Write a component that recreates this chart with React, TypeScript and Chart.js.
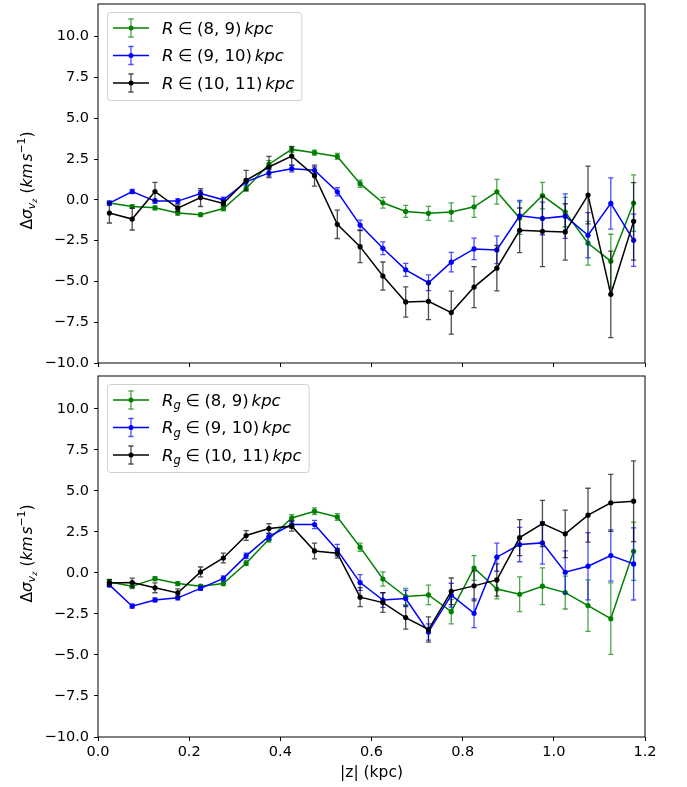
import { useEffect, useRef } from "react";
import { Chart, registerables } from "chart.js";

Chart.register(...registerables);

// Vertical bin centres |z| (kpc)
const Z_KPC = [
  0.025, 0.075, 0.125, 0.175, 0.225, 0.275, 0.325, 0.375, 0.425, 0.475, 0.525, 0.575,
  0.625, 0.675, 0.725, 0.775, 0.825, 0.875, 0.925, 0.975, 1.025, 1.075, 1.125, 1.175,
];

// Galactocentric radius bins
const R_8_9 = [-0.2, -0.41, -0.49, -0.81, -0.91, -0.53, 0.69, 2.18, 3.09, 2.89, 2.66, 0.99, -0.18, -0.71, -0.83, -0.75, -0.43, 0.49, -1.12, 0.26, -0.75, -2.66, -3.76, -0.2];
const R_8_9_ERR = [0.12, 0.12, 0.12, 0.13, 0.1, 0.14, 0.17, 0.22, 0.18, 0.15, 0.18, 0.22, 0.33, 0.37, 0.43, 0.56, 0.64, 0.76, 1.0, 0.81, 0.9, 1.34, 1.65, 1.73];
const R_9_10 = [-0.2, 0.51, -0.08, -0.08, 0.39, 0.0, 1.1, 1.65, 1.91, 1.81, 0.49, -1.55, -2.97, -4.29, -5.08, -3.82, -3.01, -3.07, -0.98, -1.14, -1.0, -2.17, -0.22, -2.48];
const R_9_10_ERR = [0.12, 0.13, 0.14, 0.15, 0.18, 0.16, 0.18, 0.2, 0.2, 0.2, 0.25, 0.3, 0.39, 0.4, 0.48, 0.6, 0.66, 0.84, 0.95, 1.0, 1.36, 1.39, 1.57, 1.6];
const R_10_11 = [-0.81, -1.18, 0.51, -0.51, 0.14, -0.22, 1.2, 2.01, 2.68, 1.48, -1.5, -2.87, -4.67, -6.26, -6.22, -6.91, -5.35, -4.19, -1.87, -1.93, -1.97, 0.29, -5.79, -1.32];
const R_10_11_ERR = [0.61, 0.67, 0.56, 0.2, 0.55, 0.15, 0.61, 0.65, 0.56, 0.64, 0.87, 0.98, 0.86, 0.93, 1.12, 1.32, 1.26, 1.39, 1.37, 2.16, 1.73, 1.77, 2.65, 2.37];

// Guiding-radius bins
const RG_8_9 = [-0.55, -0.81, -0.35, -0.65, -0.81, -0.65, 0.59, 2.05, 3.35, 3.76, 3.41, 1.57, -0.37, -1.44, -1.34, -2.36, 0.3, -0.98, -1.3, -0.81, -1.2, -1.99, -2.79, 1.32];
const RG_8_9_ERR = [0.15, 0.14, 0.12, 0.12, 0.1, 0.12, 0.15, 0.17, 0.2, 0.2, 0.2, 0.25, 0.43, 0.5, 0.59, 0.74, 0.75, 0.6, 1.06, 1.12, 1.0, 1.57, 2.18, 1.78];
const RG_9_10 = [-0.73, -2.03, -1.65, -1.52, -0.94, -0.33, 1.04, 2.22, 2.95, 2.95, 1.38, -0.59, -1.65, -1.56, -3.6, -1.36, -2.46, 0.96, 1.73, 1.83, 0.04, 0.41, 1.06, 0.55];
const RG_9_10_ERR = [0.12, 0.12, 0.12, 0.12, 0.12, 0.15, 0.17, 0.2, 0.22, 0.25, 0.36, 0.48, 0.45, 0.5, 0.5, 0.73, 0.87, 0.86, 1.05, 1.29, 1.3, 2.05, 1.56, 2.2];
const RG_10_11 = [-0.61, -0.59, -0.91, -1.22, 0.06, 0.91, 2.28, 2.7, 2.85, 1.34, 1.2, -1.48, -1.81, -2.72, -3.45, -1.12, -0.79, -0.43, 2.15, 3.01, 2.38, 3.52, 4.27, 4.37];
const RG_10_11_ERR = [0.2, 0.27, 0.3, 0.25, 0.3, 0.3, 0.3, 0.3, 0.3, 0.48, 0.3, 0.58, 0.6, 0.71, 0.77, 0.81, 0.91, 0.98, 1.1, 1.41, 1.45, 1.64, 1.74, 2.46];

const BIN_LABELS = ["(8, 9)", "(9, 10)", "(10, 11)"];
const X_TICKS = [0, 0.2, 0.4, 0.6, 0.8, 1.0, 1.2];
const Y_TICKS = [-10, -7.5, -5, -2.5, 0, 2.5, 5, 7.5, 10];
const X_RANGE = [0, 1.2];
const Y_RANGE = [-10, 12];
const X_TITLE = "|z| (kpc)";

const GREEN = "#008000";
const BLUE = "#0000ff";
const BLACK = "#000000";
const FONT = '"DejaVu Sans", "Liberation Sans", sans-serif';
const TICK_FS = 14.5;
const LABEL_FS = 15.5;
const LEGEND_FS = 16.5;

type Run = { text?: string; italic?: boolean; scale?: number; shift?: number; gap?: number };

function runFont(r: Run, size: number) {
  const s = size * (r.scale ?? 1);
  return `${r.italic ? "italic " : ""}${s}px ${FONT}`;
}

function runsWidth(ctx: CanvasRenderingContext2D, runs: Run[], size: number) {
  let w = 0;
  for (const r of runs) {
    if (r.gap !== undefined) {
      w += r.gap * size;
      continue;
    }
    ctx.font = runFont(r, size);
    w += ctx.measureText(r.text ?? "").width;
  }
  return w;
}

// Draws a run list left-to-right starting at (x, baseline) in the current transform.
function drawRuns(ctx: CanvasRenderingContext2D, runs: Run[], x: number, y: number, size: number, color: string) {
  ctx.fillStyle = color;
  ctx.textAlign = "left";
  ctx.textBaseline = "alphabetic";
  let cx = x;
  for (const r of runs) {
    if (r.gap !== undefined) {
      cx += r.gap * size;
      continue;
    }
    ctx.font = runFont(r, size);
    ctx.fillText(r.text ?? "", cx, y - (r.shift ?? 0) * size);
    cx += ctx.measureText(r.text ?? "").width;
  }
}

const Y_LABEL_RUNS: Run[] = [
  { text: "Δ" },
  { text: "σ", italic: true },
  { text: "v", italic: true, scale: 0.7, shift: -0.2 },
  { text: "z", italic: true, scale: 0.5, shift: -0.32 },
  { gap: 0.33 },
  { text: "(" },
  { text: "km", italic: true },
  { gap: 0.12 },
  { text: "s", italic: true },
  { text: "−1", scale: 0.7, shift: 0.42 },
  { text: ")" },
];

function legendRuns(sub: string | null, bin: string): Run[] {
  const runs: Run[] = [{ text: "R", italic: true }];
  if (sub) runs.push({ text: sub, italic: true, scale: 0.7, shift: -0.2 });
  runs.push({ gap: 0.28 }, { text: "∈" }, { gap: 0.28 }, { text: bin }, { gap: 0.17 }, { text: "kpc", italic: true });
  return runs;
}

const fmtTick = (v: number) => (v < 0 ? "\u2212" : "") + Math.abs(v).toFixed(1);

type SeriesSpec = { values: number[]; errors: number[]; color: string };
type PanelSpec = {
  padTop: number;
  axisHeight: number;
  showX: boolean;
  sub: string | null;
  series: SeriesSpec[];
};

const errorBarsPlugin = {
  id: "errorBars",
  beforeDatasetDraw(chart: any, args: any) {
    const ds = chart.data.datasets[args.index];
    const errs: number[] | undefined = ds.errors;
    if (!errs) return;
    const xs = chart.scales.x;
    const ys = chart.scales.y;
    const { ctx, chartArea } = chart;
    ctx.save();
    ctx.beginPath();
    ctx.rect(chartArea.left, chartArea.top, chartArea.right - chartArea.left, chartArea.bottom - chartArea.top);
    ctx.clip();
    ctx.strokeStyle = ds.borderColor;
    ctx.globalAlpha = 0.7;
    ctx.lineWidth = 1.3;
    ds.data.forEach((p: { x: number; y: number }, i: number) => {
      const px = xs.getPixelForValue(p.x);
      const lo = ys.getPixelForValue(p.y - errs[i]);
      const hi = ys.getPixelForValue(p.y + errs[i]);
      ctx.beginPath();
      ctx.moveTo(px, lo);
      ctx.lineTo(px, hi);
      ctx.moveTo(px - 2.6, lo);
      ctx.lineTo(px + 2.6, lo);
      ctx.moveTo(px - 2.6, hi);
      ctx.lineTo(px + 2.6, hi);
      ctx.stroke();
    });
    ctx.restore();
  },
};

const framePlugin = {
  id: "frame",
  afterDraw(chart: any) {
    const { ctx, chartArea } = chart;
    ctx.save();
    ctx.strokeStyle = "#000";
    ctx.lineWidth = 1;
    ctx.strokeRect(chartArea.left, chartArea.top, chartArea.right - chartArea.left, chartArea.bottom - chartArea.top);
    ctx.restore();
  },
};

const annotationPlugin = {
  id: "panelText",
  afterDraw(chart: any) {
    const { ctx, chartArea } = chart;
    const spec: PanelSpec = chart.options.plugins.panelText.spec;

    // y-axis label, rotated
    ctx.save();
    const w = runsWidth(ctx, Y_LABEL_RUNS, LABEL_FS);
    const cy = (chartArea.top + chartArea.bottom) / 2 - 3;
    ctx.translate(32, cy + w / 2);
    ctx.rotate(-Math.PI / 2);
    drawRuns(ctx, Y_LABEL_RUNS, 0, 0, LABEL_FS, "#000");
    ctx.restore();

    // legend box
    const runsList = BIN_LABELS.map((b) => legendRuns(spec.sub, b));
    const textW = Math.max(...runsList.map((r) => runsWidth(ctx, r, LEGEND_FS)));
    const bx = chartArea.left + 9;
    const by = chartArea.top + 8;
    const bw = 55 + textW + 7;
    const bh = 88;
    ctx.save();
    ctx.beginPath();
    ctx.roundRect(bx + 0.5, by + 0.5, bw, bh, 3);
    ctx.fillStyle = "rgba(255,255,255,0.8)";
    ctx.fill();
    ctx.strokeStyle = "#d0d0d0";
    ctx.lineWidth = 1;
    ctx.stroke();
    spec.series.forEach((s, i) => {
      const ry = by + 16 + i * 27.5;
      const hx0 = bx + 6;
      const hx1 = bx + 42;
      const hm = (hx0 + hx1) / 2;
      ctx.strokeStyle = s.color;
      ctx.lineWidth = 1.5;
      ctx.beginPath();
      ctx.moveTo(hx0, ry);
      ctx.lineTo(hx1, ry);
      ctx.stroke();
      ctx.globalAlpha = 0.7;
      ctx.lineWidth = 1.3;
      ctx.beginPath();
      ctx.moveTo(hm, ry - 9);
      ctx.lineTo(hm, ry + 9);
      ctx.moveTo(hm - 2.6, ry - 9);
      ctx.lineTo(hm + 2.6, ry - 9);
      ctx.moveTo(hm - 2.6, ry + 9);
      ctx.lineTo(hm + 2.6, ry + 9);
      ctx.stroke();
      ctx.globalAlpha = 1;
      ctx.fillStyle = s.color;
      ctx.beginPath();
      ctx.arc(hm, ry, 2.5, 0, Math.PI * 2);
      ctx.fill();
      drawRuns(ctx, runsList[i], bx + 55, ry + 5.9, LEGEND_FS, "#000");
    });
    ctx.restore();
  },
};

function makeChart(canvas: HTMLCanvasElement, spec: PanelSpec) {
  const orders = [2, 1, 0];
  return new Chart(canvas, {
    type: "line",
    data: {
      datasets: spec.series.map((s, i) => ({
        data: Z_KPC.map((z, j) => ({ x: z, y: s.values[j] })),
        errors: s.errors,
        borderColor: s.color,
        backgroundColor: s.color,
        pointBackgroundColor: s.color,
        pointBorderWidth: 0,
        pointRadius: 2.6,
        borderWidth: 1.5,
        tension: 0,
        order: orders[i],
      })) as any,
    },
    options: {
      responsive: false,
      animation: false,
      devicePixelRatio: 1,
      layout: { padding: { top: spec.padTop, right: 42, bottom: 0, left: 0 } },
      plugins: {
        legend: { display: false },
        tooltip: { enabled: false },
        panelText: { spec },
      } as any,
      scales: {
        x: {
          type: "linear",
          min: X_RANGE[0],
          max: X_RANGE[1],
          afterBuildTicks: (s: any) => {
            s.ticks = X_TICKS.map((v) => ({ value: v }));
          },
          afterFit: (s: any) => {
            s.height = spec.axisHeight;
            s.paddingLeft = 0;
            s.paddingRight = 0;
            s.paddingTop = 0;
            s.paddingBottom = 0;
          },
          grid: { drawOnChartArea: false, drawTicks: true, tickLength: 4, color: "#000", lineWidth: 1 },
          border: { display: false },
          ticks: {
            display: spec.showX,
            padding: 3,
            maxRotation: 0,
            color: "#000",
            font: { family: FONT, size: TICK_FS },
            callback: (v: any) => fmtTick(Number(v)),
          },
          title: {
            display: spec.showX,
            text: X_TITLE,
            color: "#000",
            font: { family: FONT, size: LABEL_FS },
            padding: { top: 0, bottom: 5 },
          },
        },
        y: {
          type: "linear",
          min: Y_RANGE[0],
          max: Y_RANGE[1],
          afterBuildTicks: (s: any) => {
            s.ticks = Y_TICKS.map((v) => ({ value: v }));
          },
          afterFit: (s: any) => {
            s.width = 98;
            s.paddingLeft = 0;
            s.paddingRight = 0;
            s.paddingTop = 0;
            s.paddingBottom = 0;
          },
          grid: { drawOnChartArea: false, drawTicks: true, tickLength: 4, color: "#000", lineWidth: 1 },
          border: { display: false },
          ticks: {
            padding: 5,
            color: "#000",
            font: { family: FONT, size: TICK_FS },
            callback: (v: any) => fmtTick(Number(v)),
          },
        },
      },
    },
    plugins: [errorBarsPlugin, framePlugin, annotationPlugin],
  } as any);
}

export default function App() {
  const topRef = useRef<HTMLCanvasElement | null>(null);
  const bottomRef = useRef<HTMLCanvasElement | null>(null);

  useEffect(() => {
    if (!topRef.current || !bottomRef.current) return;
    const top = makeChart(topRef.current, {
      padTop: 2,
      axisHeight: 7,
      showX: false,
      sub: null,
      series: [
        { values: R_8_9, errors: R_8_9_ERR, color: GREEN },
        { values: R_9_10, errors: R_9_10_ERR, color: BLUE },
        { values: R_10_11, errors: R_10_11_ERR, color: BLACK },
      ],
    });
    const bottom = makeChart(bottomRef.current, {
      padTop: 6,
      axisHeight: 50,
      showX: true,
      sub: "g",
      series: [
        { values: RG_8_9, errors: RG_8_9_ERR, color: GREEN },
        { values: RG_9_10, errors: RG_9_10_ERR, color: BLUE },
        { values: RG_10_11, errors: RG_10_11_ERR, color: BLACK },
      ],
    });
    return () => {
      top.destroy();
      bottom.destroy();
    };
  }, []);

  return (
    <div style={{ position: "absolute", left: 0, top: 0, width: 687, height: 787, background: "#fff" }}>
      <canvas ref={topRef} width={687} height={370} style={{ position: "absolute", left: 0, top: 0, width: 687, height: 370 }} />
      <canvas ref={bottomRef} width={687} height={417} style={{ position: "absolute", left: 0, top: 370, width: 687, height: 417 }} />
    </div>
  );
}
